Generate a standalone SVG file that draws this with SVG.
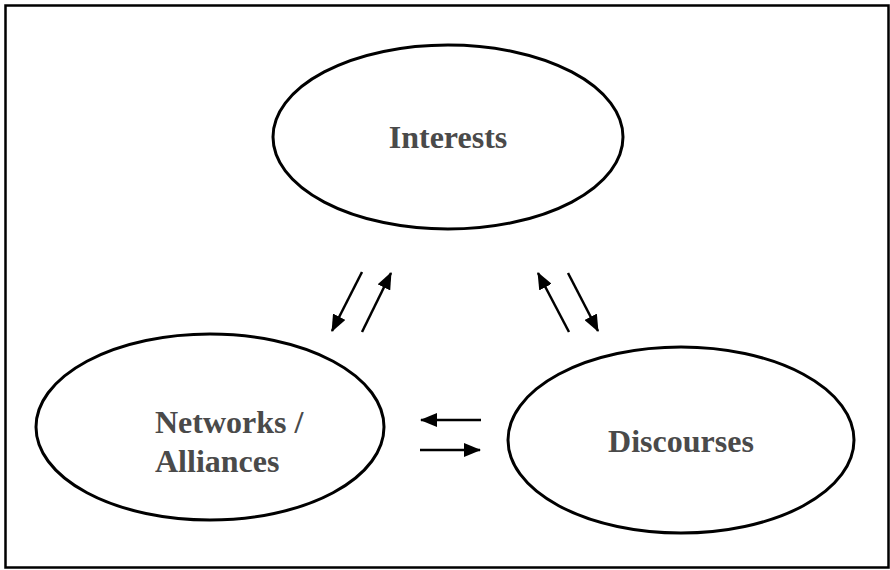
<svg xmlns="http://www.w3.org/2000/svg" width="890" height="570" viewBox="0 0 890 570">
  <style>
    .frame { fill: #fff; stroke: #000; stroke-width: 2.5; }
    .node { fill: #fff; stroke: #000; stroke-width: 3; }
    .label { font-family: "Liberation Serif", "Times New Roman", serif; font-weight: bold; font-size: 32px; fill: #4a4a4a; }
    .link { stroke: #000; stroke-width: 2.5; fill: none; marker-end: url(#head); }
  </style>
  <defs>
    <marker id="head" viewBox="0 0 17 14" refX="16" refY="7" markerWidth="17" markerHeight="14" markerUnits="userSpaceOnUse" orient="auto">
      <path d="M0,0 L17,7 L0,14 Z" fill="#000"/>
    </marker>
  </defs>

  <rect class="frame" x="5.5" y="5.5" width="883" height="562"/>

  <g id="interests">
    <ellipse class="node" cx="448" cy="137" rx="175" ry="92"/>
    <text class="label" x="448" y="148" text-anchor="middle">Interests</text>
  </g>

  <g id="networks">
    <ellipse class="node" cx="210" cy="427" rx="174" ry="93"/>
    <text class="label" x="155" y="433">Networks /</text>
    <text class="label" x="155" y="472">Alliances</text>
  </g>

  <g id="discourses">
    <ellipse class="node" cx="681" cy="440" rx="173" ry="93"/>
    <text class="label" x="681" y="452" text-anchor="middle">Discourses</text>
  </g>

  <g id="connectors">
    <line class="link" x1="362" y1="272" x2="332" y2="331"/>
    <line class="link" x1="362" y1="332" x2="391" y2="273"/>
    <line class="link" x1="569" y1="332" x2="538" y2="273"/>
    <line class="link" x1="568" y1="273" x2="598" y2="331"/>
    <line class="link" x1="481" y1="420" x2="421" y2="420"/>
    <line class="link" x1="420" y1="450" x2="480" y2="450"/>
  </g>
</svg>
